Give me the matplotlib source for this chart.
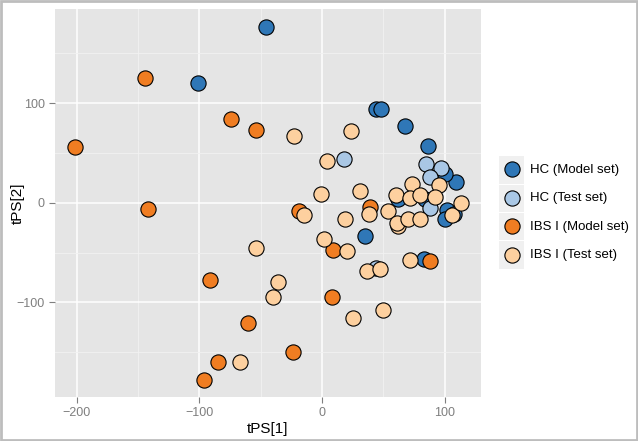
import matplotlib
matplotlib.use("Agg")
import matplotlib.pyplot as plt
from matplotlib.patches import Rectangle
from matplotlib.ticker import MultipleLocator

plt.rcParams['font.family'] = ['Liberation Sans', 'DejaVu Sans']

labels = ['HC (Model set)', 'HC (Test set)', 'IBS I (Model set)', 'IBS I (Test set)']
colors = ['#2f77b7', '#a9c7e5', '#f07d22', '#fdd09f']

# HC model set
hc_model_x = [-46, -101, 44, 48, 68, 86, 109, 100, 62, 84, 102, 100, 108, 35, 83]
hc_model_y = [176, 120, 94, 94, 77, 57, 21, 29, 4, 4, -7, -16, -11, -33, -56]
# HC test set
hc_test_x = [18, 85, 97, 88, 88, 44]
hc_test_y = [44, 39, 35, 26, -5, -66]
# IBS I model set
ibs_model_x = [-201, -144, -74, -54, -142, -19, -91, -60, -24, -85, -96, 39, 9, 8, 88]
ibs_model_y = [56, 125, 84, 73, -6, -8, -78, -121, -150, -160, -178, -4, -47, -95, -58]
# IBS I test set
ibs_test_x = [-23, 24, 4, -1, 31, -15, 19, 38, 54, -54, -36, -40, -67, 2, 20, 37, 47,
              50, 25, 72, 62, 61, 70, 80, 106, 113, 73, 95, 60, 72, 80, 92]
ibs_test_y = [67, 72, 42, 9, 12, -12, -16, -11, -8, -45, -80, -95, -160, -36, -48, -69, -67,
              -108, -116, -57, -23, -20, -16, -16, -12, 0, 19, 18, 8, 5, 8, 6]

groups = [(hc_model_x, hc_model_y), (hc_test_x, hc_test_y),
          (ibs_model_x, ibs_model_y), (ibs_test_x, ibs_test_y)]

W, H = 638, 441
fig = plt.figure(figsize=(W/100, H/100), dpi=100)
fig.patch.set_facecolor('white')
fig.patches.append(Rectangle((0.002, 0.003), 0.996, 0.994, transform=fig.transFigure,
                             fill=False, edgecolor='#bdbdbd', linewidth=2, zorder=10))
ax = fig.add_axes([55/W, 1-396.7/H, (481-55)/W, (396.7-9)/H])
ax.set_facecolor('#e5e5e5')

handles = []
for (xs, ys), c, lab in zip(groups, colors, labels):
    h = ax.scatter(xs, ys, s=120, c=c, edgecolors='black', linewidths=0.8, label=lab, zorder=3)
    handles.append(h)

ax.set_xlim(-217.6, 129.6)
ax.set_ylim(-194.6, 194.3)
ax.xaxis.set_major_locator(MultipleLocator(100))
ax.yaxis.set_major_locator(MultipleLocator(100))
ax.xaxis.set_minor_locator(MultipleLocator(50))
ax.yaxis.set_minor_locator(MultipleLocator(50))
ax.grid(which='major', color='white', linewidth=1.1, zorder=0)
ax.grid(which='minor', color='#f2f2f2', linewidth=0.6, zorder=0)
ax.set_axisbelow(True)
for sp in ax.spines.values():
    sp.set_visible(False)
ax.tick_params(which='major', length=4, color='#7f7f7f', labelcolor='#7f7f7f', labelsize=9)
ax.tick_params(which='minor', length=0)
ax.set_xlabel('tPS[1]', fontsize=11, labelpad=2)
ax.set_ylabel('tPS[2]', fontsize=11)
ax.yaxis.set_label_coords(-0.072, 0.5)

# legend key backgrounds (ggplot style)
row_h = 28.3
for i in range(4):
    cy = 170 + i*row_h
    fig.patches.append(Rectangle((499/W, 1-(cy + row_h/2 - 0.5)/H), 25/W, (row_h - 1)/H,
                                 transform=fig.transFigure, facecolor='#f0f0f0',
                                 edgecolor='none', zorder=1))

fig.legend(handles=handles, loc='center left', bbox_to_anchor=(499/W, 1-212.5/H),
           frameon=False, fontsize=9.5, labelspacing=1.23, handlelength=2.0,
           handletextpad=0.35, borderpad=0, borderaxespad=0, scatterpoints=1)

fig.savefig('out.png', dpi=100)
